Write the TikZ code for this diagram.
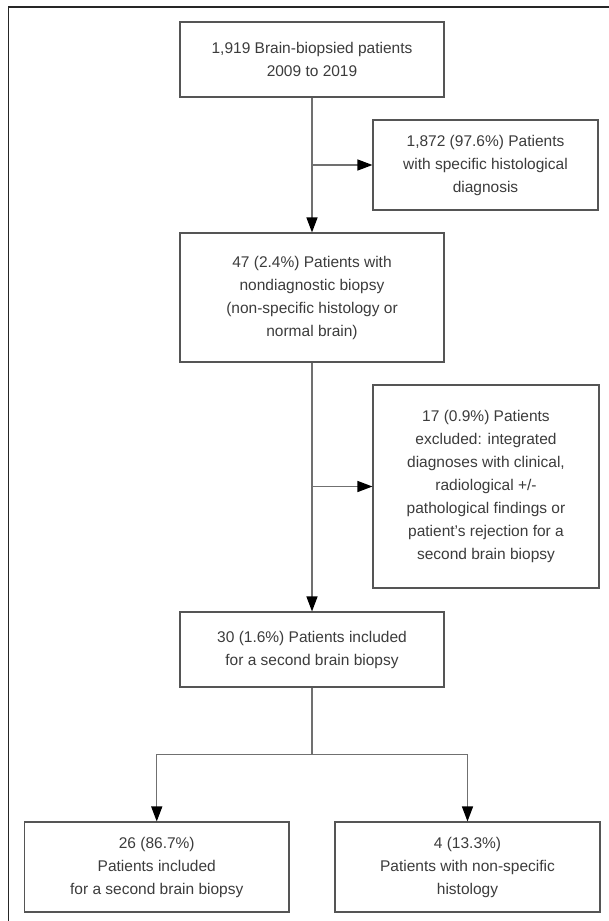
\documentclass[tikz,border=0pt]{standalone}
\usepackage{fontspec}
\setmainfont{Liberation Sans}
\usepackage{xcolor}
\usetikzlibrary{arrows.meta}
\usetikzlibrary{calc}
\tikzset{>={Triangle[length=15pt,width=11pt,color=black]}}
\definecolor{boxline}{HTML}{555555}
\definecolor{linkline}{HTML}{707070}
\definecolor{txtgray}{HTML}{3C3C3C}

\tikzset{
	flowbox/.style={draw=boxline,line width=1.1pt,align=center,inner sep=0pt,
		text=txtgray,font={\fontsize{15.5pt}{23pt}\selectfont}},
	link/.style={draw=linkline,line width=1.3pt}
}

\begin{document}
\begin{tikzpicture}[x=1pt,y=-1pt]
		\useasboundingbox (0,0) rectangle (609,921);
		\fill[white] (0,0) rectangle (609,921);
		% frame (only top and left edges visible)
		\draw[black!85,line width=1.2pt] (8.5,921) -- (8.5,7) -- (609,7);

		\node[flowbox,minimum width=264pt,minimum height=75pt] (all) at (312,59.5)
			{1,919 Brain-biopsied patients\\2009 to 2019};
		\node[flowbox,minimum width=225pt,minimum height=90pt] (spec) at (485.5,165)
			{1,872 (97.6\%) Patients\\with specific histological\\diagnosis};
		\node[flowbox,minimum width=264pt,minimum height=129pt] (nondiag) at (312,297.5)
			{47 (2.4\%) Patients with\\nondiagnostic biopsy\\(non-specific histology or\\normal brain)};
		\node[flowbox,minimum width=226pt,minimum height=203pt] (excl) at (486,486.5)
			{17 (0.9\%) Patients\\excluded: integrated\\diagnoses with clinical,\\radiological +/-\\pathological findings or\\patient's rejection for a\\second brain biopsy};
		\node[flowbox,minimum width=264pt,minimum height=75pt] (incl) at (312,649.5)
			{30 (1.6\%) Patients included\\for a second brain biopsy};
		\node[flowbox,minimum width=264.5pt,minimum height=90pt] (second) at (156.75,867)
			{26 (86.7\%)\\Patients included\\for a second brain biopsy};
		\node[flowbox,minimum width=265pt,minimum height=90pt] (nonspec) at (467.5,867)
			{4 (13.3\%)\\Patients with non-specific\\histology};

		\coordinate (b1) at (all.south |- spec.west);
		\coordinate (b2) at (nondiag.south |- excl.west);
		\coordinate (split) at ($(incl.south)+(0,67)$);

		\draw[link,->] (all.south) -- (nondiag.north);
		\draw[link,->] (b1) -- (spec.west);
		\draw[link,->] (nondiag.south) -- (incl.north);
		\draw[link,->] (b2) -- (excl.west);
		\draw[link] (incl.south) -- (split);
		\draw[link,->] (split) -| (second.north);
		\draw[link,->] (split) -| (nonspec.north);
	\end{tikzpicture}
\end{document}
